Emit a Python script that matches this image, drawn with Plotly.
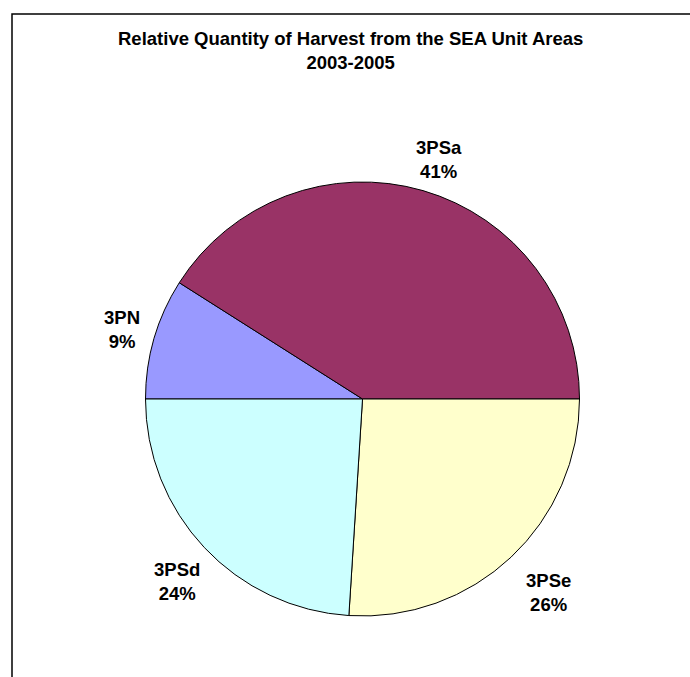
import math
import plotly.graph_objects as go

# Harvest share by SEA unit area, 2003-2005 (percent)
areas = ["3PN", "3PSa", "3PSe", "3PSd"]
shares = [9, 41, 26, 24]
colors = ["#9999FF", "#993366", "#FFFFCC", "#CCFFFF"]

W, H = 690, 677
FONT = "Arial, 'Liberation Sans', sans-serif"
FS = 18.5

# pie geometry in pixels
cx, cy, R = 362.5, 399, 217
start_deg = 180.0  # first slice starts at 9 o'clock and runs clockwise

fig = go.Figure(
    go.Pie(
        labels=areas,
        values=shares,
        sort=False,
        direction="clockwise",
        rotation=270,
        marker=dict(colors=colors, line=dict(color="#000000", width=1)),
        textinfo="none",
        hoverinfo="label+percent",
        showlegend=False,
        domain=dict(
            x=[(cx - R) / W, (cx + R) / W],
            y=[(H - cy - R) / H, (H - cy + R) / H],
        ),
    )
)

# outside labels placed along each slice's mid angle
total = sum(shares)
acc = 0.0
annotations = []
for name, v in zip(areas, shares):
    mid = start_deg - 360.0 * (acc + v / 2) / total
    acc += v
    s, c = math.sin(math.radians(mid)), math.cos(math.radians(mid))
    r = R * 1.19 - 7 * s
    px = cx + r * c + 6
    py = cy - r * s + 2
    annotations.append(
        dict(
            x=px / W, y=1 - py / H, xref="paper", yref="paper",
            text=f"<b>{name}<br>{round(100 * v / total)}%</b>",
            showarrow=False, xanchor="center", yanchor="middle",
            font=dict(family=FONT, size=FS, color="#000000"),
        )
    )

annotations.append(
    dict(
        x=351 / W, y=1 - 51 / H, xref="paper", yref="paper",
        text="<b>Relative Quantity of Harvest from the SEA Unit Areas<br>2003-2005</b>",
        showarrow=False, xanchor="center", yanchor="middle",
        font=dict(family=FONT, size=FS, color="#000000"),
    )
)

fig.update_layout(
    width=W, height=H,
    margin=dict(l=0, r=0, t=0, b=0),
    paper_bgcolor="#FFFFFF",
    plot_bgcolor="#FFFFFF",
    annotations=annotations,
    shapes=[
        dict(
            type="rect", xref="paper", yref="paper",
            x0=12 / W, x1=1.05, y0=-0.05, y1=1 - 14 / H,
            line=dict(color="#000000", width=1.5),
            fillcolor="rgba(0,0,0,0)", layer="below",
        )
    ],
)

fig.write_html("out.html")
